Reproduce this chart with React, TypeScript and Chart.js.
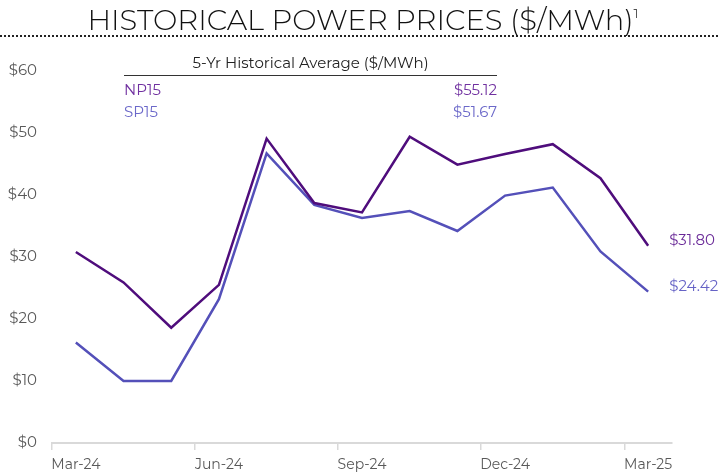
import React, { useEffect, useRef } from "react";
import { Chart, registerables } from "chart.js";

Chart.register(...registerables);

const months = ["Mar-24", "Apr-24", "May-24", "Jun-24", "Jul-24", "Aug-24", "Sep-24", "Oct-24", "Nov-24", "Dec-24", "Jan-25", "Feb-25", "Mar-25"];
const np15 = [30.8, 25.9, 18.6, 25.5, 49.1, 38.7, 37.2, 49.4, 44.9, 46.6, 48.2, 42.7, 31.8];
const sp15 = [16.2, 10.0, 10.0, 23.2, 46.7, 38.4, 36.3, 37.4, 34.2, 39.9, 41.2, 30.9, 24.42];
const endLabels = ["$31.80", "$24.42"];
const avgRows = [
  { name: "NP15", value: "$55.12", color: "#7030a0" },
  { name: "SP15", value: "$51.67", color: "#6b68c9" },
];

const NP_COLOR = "#4f0d7c";
const SP_COLOR = "#5450b9";
const FONT = "Montserrat, 'Open Sans', 'Noto Sans', sans-serif";

export default function App() {
  const ref = useRef<HTMLCanvasElement | null>(null);

  useEffect(() => {
    if (!ref.current) return;
    const endLabelPlugin = {
      id: "endLabels",
      afterDatasetsDraw(chart: any) {
        const ctx = chart.ctx;
        ctx.save();
        ctx.font = `15px ${FONT}`;
        ctx.textAlign = "left";
        ctx.textBaseline = "middle";
        chart.data.datasets.forEach((ds: any, i: number) => {
          const meta = chart.getDatasetMeta(i);
          const pt = meta.data[meta.data.length - 1];
          ctx.fillStyle = i === 0 ? "#6a2a98" : "#6663c6";
          ctx.fillText(endLabels[i], pt.x + 21, pt.y - 5);
        });
        ctx.restore();
      },
    };
    const chart = new Chart(ref.current, {
      type: "line",
      data: {
        labels: months,
        datasets: [
          { label: "NP15", data: np15, borderColor: NP_COLOR, borderWidth: 2.5, pointRadius: 0, tension: 0 },
          { label: "SP15", data: sp15, borderColor: SP_COLOR, borderWidth: 2.5, pointRadius: 0, tension: 0 },
        ],
      },
      options: {
        animation: false,
        responsive: false,
        maintainAspectRatio: false,
        layout: { padding: { left: 0, right: 46, top: 71, bottom: 0 } },
        plugins: { legend: { display: false }, tooltip: { enabled: false } },
        scales: {
          x: {
            type: "category",
            offset: true,
            afterFit: (s: any) => { s.height = 33; },
            grid: {
              offset: true,
              drawOnChartArea: false,
              drawTicks: true,
              tickLength: 7,
              lineWidth: 1.5,
              color: (c: any) => (c.index % 3 === 0 && c.index < 13 ? "#d9d9d9" : "rgba(0,0,0,0)"),
            },
            border: { display: true, color: "#d9d9d9", width: 2 },
            ticks: {
              autoSkip: false,
              maxRotation: 0,
              padding: 6,
              color: "#595959",
              font: { family: FONT, size: 14 },
              callback: (_v: any, i: number) => (i % 3 === 0 ? months[i] : ""),
            },
          },
          y: {
            min: 0,
            max: 60,
            afterFit: (s: any) => { s.width = 52; },
            grid: { display: false, drawTicks: false },
            border: { display: false },
            ticks: {
              stepSize: 10,
              padding: 15,
              color: "#595959",
              font: { family: FONT, size: 15 },
              callback: (v: any) => "$" + v,
            },
          },
        },
      },
      plugins: [endLabelPlugin],
    });
    return () => chart.destroy();
  }, []);

  return (
    <div style={{ position: "absolute", left: 0, top: 0, width: 718, height: 476, background: "#fff", overflow: "hidden", fontFamily: FONT }}>
      <canvas ref={ref} width={718} height={476} style={{ position: "absolute", left: 0, top: 0 }} />
      <div style={{ position: "absolute", left: 0, top: 1, width: 718, textAlign: "center", fontSize: 29, fontWeight: 300, color: "#111", lineHeight: "38px", letterSpacing: 0 }}>
        <span style={{ marginLeft: 8 }}>HISTORICAL POWER PRICES ($/MWh)</span>
        <sup style={{ fontSize: 14, verticalAlign: "top", lineHeight: "24px" }}>1</sup>
      </div>
      <div style={{ position: "absolute", left: 0, top: 35, width: 718, borderTop: "2px dotted #222" }} />
      <div style={{ position: "absolute", left: 124, top: 53, width: 373 }}>
        <div style={{ textAlign: "center", fontSize: 15, color: "#222", lineHeight: "20px" }}>5-Yr Historical Average ($/MWh)</div>
        <div style={{ borderTop: "1.5px solid #333", marginTop: 2, marginBottom: 3 }} />
        {avgRows.map((r) => (
          <div key={r.name} style={{ display: "flex", justifyContent: "space-between", fontSize: 15, color: r.color, lineHeight: "22px" }}>
            <span>{r.name}</span>
            <span>{r.value}</span>
          </div>
        ))}
      </div>
    </div>
  );
}
